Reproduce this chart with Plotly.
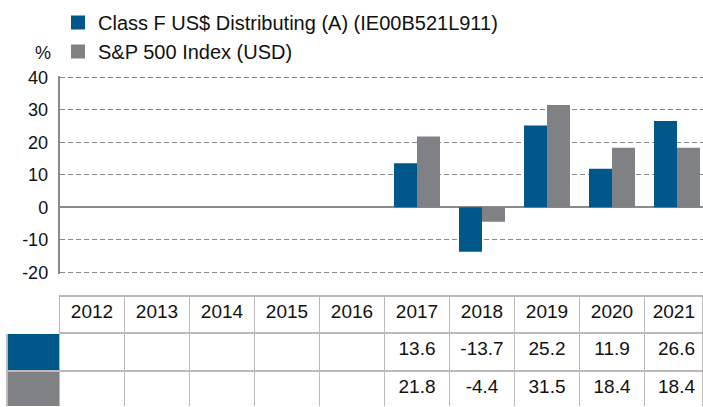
import plotly.graph_objects as go

years = ["2012", "2013", "2014", "2015", "2016", "2017", "2018", "2019", "2020", "2021"]
fund_name = "Class F US$ Distributing (A) (IE00B521L911)"
index_name = "S&P 500 Index (USD)"
fund_values = [None, None, None, None, None, 13.6, -13.7, 25.2, 11.9, 26.6]
index_values = [None, None, None, None, None, 21.8, -4.4, 31.5, 18.4, 18.4]
y_ticks = [-20, -10, 0, 10, 20, 30, 40]

BLUE = "#00578A"
GREY = "#808184"
FONT = "Liberation Sans, Arial, sans-serif"
W, H = 703, 407
Y_MIN, Y_MAX = -20, 40
PLOT_TOP, PLOT_BOTTOM = 77.5, 272.3
EXT = 0.4  # tiny range padding so the end gridlines are drawn
PX_PER_UNIT = (PLOT_BOTTOM - PLOT_TOP) / (Y_MAX - Y_MIN)
TABLE_TOP = 296
LEFT = 59.5
CAT_W = 65.0
n = len(years)

def fmt(v):
    return "" if v is None else f"{v:.1f}"

fig = go.Figure()
fig.add_trace(go.Bar(x=years, y=fund_values, name=fund_name, marker_color=BLUE,
                     marker_line_width=0, showlegend=False, legendgroup="f"))
fig.add_trace(go.Bar(x=years, y=index_values, name=index_name, marker_color=GREY,
                     marker_line_width=0, showlegend=False, legendgroup="i"))
# legend entries with larger square swatches
for name, color, grp in [(fund_name, BLUE, "f"), (index_name, GREY, "i")]:
    fig.add_trace(go.Scatter(x=[None], y=[None], mode="markers", name=name,
                             legendgroup=grp, showlegend=True,
                             marker=dict(symbol="square", size=14, color=color,
                                         line=dict(width=0))))

line_grey = "#b9b9b9"
last_w = W - LEFT - CAT_W * (n - 1)
fig.add_trace(go.Table(
    domain=dict(x=[7 / W, 1], y=[0, (H - TABLE_TOP) / H]),
    columnwidth=[LEFT - 7] + [CAT_W] * (n - 1) + [last_w],
    header=dict(
        values=[""] + years,
        fill_color="white",
        line=dict(color=["white"] + [line_grey] * n, width=1.5),
        font=dict(family=FONT, size=19, color="#111111"),
        align=["center"] * n + ["right"],
        height=37,
    ),
    cells=dict(
        values=[["", ""]] + [[fmt(f), fmt(i)] for f, i in zip(fund_values, index_values)],
        fill_color=[[BLUE, GREY]] + [["white", "white"]] * n,
        line=dict(color=line_grey, width=1.5),
        font=dict(family=FONT, size=19, color="#111111"),
        align=["center"] * n + ["right"],
        height=38,
    ),
))

ext_px = EXT * PX_PER_UNIT
fig.update_layout(
    width=W, height=H,
    margin=dict(l=0, r=0, t=0, b=0, pad=0, autoexpand=False),
    paper_bgcolor="white", plot_bgcolor="white",
    barmode="group", bargap=0.292, bargroupgap=0,
    font=dict(family=FONT, size=18, color="#111111"),
    showlegend=True,
    legend=dict(
        x=(60 - 2) / W, xanchor="left", y=1 - 3 / H, yanchor="top",
        font=dict(family=FONT, size=20, color="#111111"),
        bgcolor="rgba(0,0,0,0)", tracegroupgap=0, itemclick=False,
        orientation="v", itemsizing="trace",
    ),
    xaxis=dict(domain=[LEFT / W, 1], range=[-0.5, -0.5 + (W - LEFT) / CAT_W],
               showticklabels=False, showgrid=False,
               zeroline=False, showline=False, ticks="", fixedrange=True),
    yaxis=dict(domain=[(H - PLOT_BOTTOM - ext_px) / H, (H - PLOT_TOP + ext_px) / H],
               range=[Y_MIN - EXT, Y_MAX + EXT], tickvals=y_ticks,
               ticktext=[str(t) for t in y_ticks],
               showgrid=True, gridcolor="#8a8a8a", griddash="5px,3px", gridwidth=1,
               zeroline=True, zerolinecolor="#8a8a8a", zerolinewidth=1.5,
               showline=True, linecolor="#8a8a8a", linewidth=1.5,
               ticks="", ticklabelstandoff=6, automargin=False,
               tickfont=dict(family=FONT, size=18, color="#111111"), fixedrange=True),
    annotations=[dict(text="%", xref="paper", yref="paper", x=LEFT / W,
                      y=(H - 53) / H, xanchor="right", yanchor="middle", xshift=-7,
                      showarrow=False, font=dict(family=FONT, size=18, color="#111111"))],
)

fig.write_html("out.html")
